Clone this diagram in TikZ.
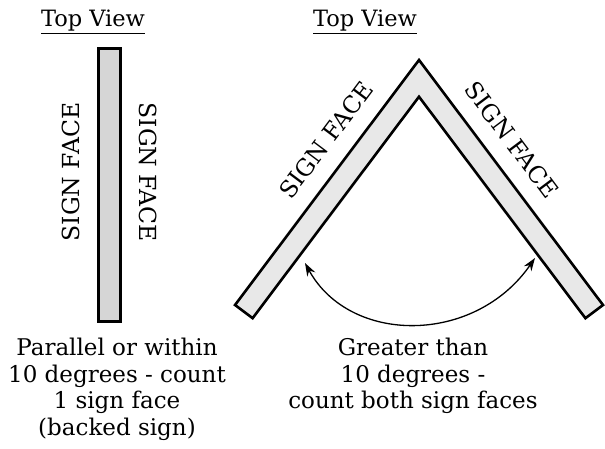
\documentclass[tikz,border=0pt]{standalone}
\usepackage{fontspec}
\setmainfont{DejaVu Serif}
\usetikzlibrary{arrows.meta, positioning}
\definecolor{barfill}{RGB}{214,214,214}
\definecolor{vfill}{RGB}{232,232,232}

\begin{document}
\begin{tikzpicture}[
  x=1pt, y=-1pt,
  heading/.style={font=\fontsize{22.5}{26}\selectfont, anchor=base, inner sep=0pt},
  facelabel/.style={font=\fontsize{23.5}{26}\selectfont, inner sep=0pt},
  caption/.style={font=\fontsize{23}{26.5}\selectfont, align=center, anchor=north, inner sep=0pt},
  panel/.style={draw=black, line width=2.6pt, line join=miter},
  sweep/.style={{Stealth[length=13pt,width=9pt]}-{Stealth[length=13pt,width=9pt]}, line width=1.3pt},
]
\useasboundingbox (0,0) rectangle (605,449);

% Headings
\node[heading] (topL) at (93,27) {\underline{Top View}};
\node[heading] (topR) at (365,27) {\underline{Top View}};

% Backed sign: one panel, two faces
\node[panel, fill=barfill, minimum width=22.4pt, minimum height=273.4pt, inner sep=0pt] (bar) at (109.5,185) {};
\node[facelabel, rotate=90] (faceA) at (71,172) {SIGN FACE};
\node[facelabel, rotate=-90] (faceB) at (148,172) {SIGN FACE};

% V-shaped sign
\coordinate (apex) at (419,60);
\coordinate (inapex) at (419,96.7);
\draw[panel, fill=vfill] (235,305) -- (apex) -- (603,305) -- (585.4,318.2)
  -- (inapex) -- (252.6,318.2) -- cycle;
\node[facelabel, rotate=53.13] (faceC) at (326,140) {SIGN FACE};
\node[facelabel, rotate=-53.13] (faceD) at (512,140) {SIGN FACE};

% Angle between the faces
\coordinate (angL) at (305,263);
\coordinate (angR) at (535,258);
\draw[sweep] (angL) .. controls (350,345) and (475,345) .. (angR);

% Captions
\node[caption] (capL) at (117,338) {Parallel or within\\10 degrees - count\\1 sign face\\(backed sign)};
\node[caption] (capR) at (413,338) {Greater than\\10 degrees -\\count both sign faces};

\end{tikzpicture}
\end{document}
